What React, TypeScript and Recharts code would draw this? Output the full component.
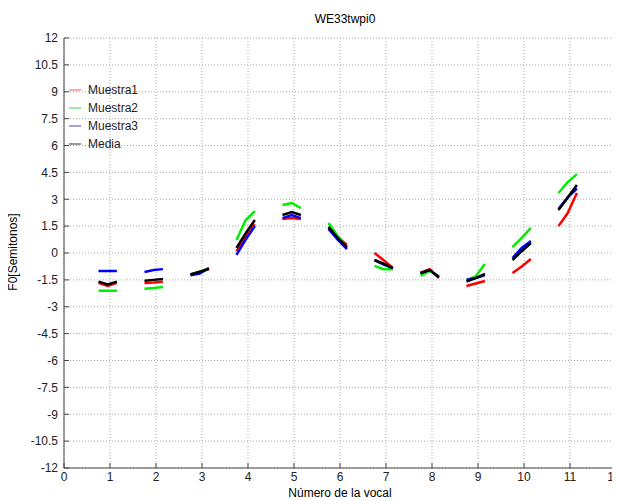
import React from 'react'
import { CartesianGrid, Legend, Line, LineChart, XAxis, YAxis } from 'recharts'

const vowels = [1, 2, 3, 4, 5, 6, 7, 8, 9, 10, 11]
const offsets = [-0.25, -0.05, 0.15]
const xTicks = [0, 1, 2, 3, 4, 5, 6, 7, 8, 9, 10, 11, 12]
const yTicks = [-12, -10.5, -9, -7.5, -6, -4.5, -3, -1.5, 0, 1.5, 3, 4.5, 6, 7.5, 9, 10.5, 12]

// F0 per vowel: start, middle, end of each segment
const muestra1 = [
  [-1.67, -1.84, -1.67],
  [-1.67, -1.65, -1.6],
  [-1.2, -1.05, -0.9],
  [0.1, 0.9, 1.6],
  [1.9, 1.95, 1.9],
  [1.4, 0.9, 0.45],
  [0, -0.4, -0.84],
  [-1.1, -0.9, -1.4],
  [-1.84, -1.7, -1.56],
  [-1.12, -0.75, -0.33],
  [1.5, 2.23, 3.35]
]
const muestra2 = [
  [-2.1, -2.1, -2.1],
  [-2.0, -1.95, -1.9],
  [-1.2, -1.05, -0.85],
  [0.72, 1.84, 2.34],
  [2.68, 2.79, 2.5],
  [1.67, 0.95, 0.28],
  [-0.72, -0.9, -0.9],
  [-1.28, -1.0, -1.3],
  [-1.5, -1.3, -0.62],
  [0.33, 0.85, 1.4],
  [3.35, 3.96, 4.4]
]
const muestra3 = [
  [-1.0, -1.0, -1.0],
  [-1.06, -0.95, -0.9],
  [-1.25, -1.15, -0.85],
  [-0.1, 0.75, 1.5],
  [1.95, 2.12, 1.95],
  [1.34, 0.75, 0.22],
  [-0.4, -0.65, -0.84],
  [-1.12, -0.95, -1.34],
  [-1.5, -1.4, -1.23],
  [-0.28, 0.28, 0.67],
  [2.45, 3.1, 3.6]
]
const media = [
  [-1.6, -1.75, -1.6],
  [-1.55, -1.5, -1.45],
  [-1.2, -1.05, -0.88],
  [0.28, 1.1, 1.84],
  [2.12, 2.29, 2.12],
  [1.45, 0.85, 0.33],
  [-0.39, -0.6, -0.84],
  [-1.12, -0.95, -1.34],
  [-1.6, -1.4, -1.17],
  [-0.39, 0.1, 0.56],
  [2.4, 3.1, 3.8]
]

const toPoints = (segs: number[][]) =>
  segs.flatMap((seg, i) => [
    ...offsets.map((o, j) => ({ x: vowels[i] + o, y: seg[j] })),
    { x: vowels[i] + 0.5, y: null }
  ])

const series = [
  { name: 'Muestra1', color: '#ff0000', legend: '#e87878', data: toPoints(muestra1) },
  { name: 'Muestra2', color: '#00ee00', legend: '#55dd55', data: toPoints(muestra2) },
  { name: 'Muestra3', color: '#0000ff', legend: '#6666cc', data: toPoints(muestra3) },
  { name: 'Media', color: '#000000', legend: '#555555', data: toPoints(media) }
]

const font = 'Liberation Sans, Arial, sans-serif'
const axisColor = '#444'
const blank = () => ''

const LegendBox = () => (
  <div style={{ fontFamily: font, fontSize: 12, color: '#222' }}>
    {series.map(s => (
      <div key={s.name} style={{ display: 'flex', alignItems: 'center', height: 18 }}>
        <svg width={12} height={4} style={{ marginRight: 7 }}>
          <line x1={0} y1={2} x2={12} y2={2} stroke={s.legend} strokeWidth={1.2} />
        </svg>
        <span>{s.name}</span>
      </div>
    ))}
  </div>
)

const App = () => {
  return (
    <div style={{ position: 'relative', width: 612, height: 493, fontFamily: font }}>
      <div style={{ position: 'absolute', left: 0, width: 674, top: 4, textAlign: 'center', fontSize: 12 }}>
        WE33twpi0
      </div>
      <div style={{ position: 'absolute', left: 0, width: 664, top: 478, textAlign: 'center', fontSize: 12 }}>
        Número de la vocal
      </div>
      <div
        style={{
          position: 'absolute',
          left: -45,
          top: 237,
          width: 100,
          textAlign: 'center',
          fontSize: 12,
          transform: 'rotate(-90deg)'
        }}
      >
        F0[Semitonos]
      </div>
      <LineChart width={612} height={493} margin={{ top: 30, right: 4, bottom: 3, left: 6 }}>
        <CartesianGrid stroke="#aaa" strokeDasharray="1 2" />
        <XAxis
          type="number"
          dataKey="x"
          domain={[0, 12]}
          ticks={xTicks}
          allowDataOverflow
          height={30}
          stroke={axisColor}
          tickSize={-5}
          tickMargin={9}
          tick={{ fill: '#222', fontSize: 12, fontFamily: font }}
        />
        <XAxis
          xAxisId="top"
          orientation="top"
          type="number"
          domain={[0, 12]}
          ticks={xTicks}
          height={0}
          tickSize={-5}
          tickFormatter={blank}
          stroke={axisColor}
        />
        <YAxis
          type="number"
          domain={[-12, 12]}
          ticks={yTicks}
          allowDataOverflow
          width={50}
          stroke={axisColor}
          tickSize={-5}
          tickMargin={11}
          interval={0}
          tick={{ fill: '#222', fontSize: 12, fontFamily: font }}
        />
        <YAxis
          yAxisId="right"
          orientation="right"
          type="number"
          domain={[-12, 12]}
          ticks={yTicks}
          width={0}
          tickSize={-5}
          interval={0}
          tickFormatter={blank}
          stroke={axisColor}
        />
        <Legend
          layout="vertical"
          align="center"
          verticalAlign="middle"
          content={() => <LegendBox />}
          wrapperStyle={{ left: 61, top: 73, width: 110, height: 75 }}
        />
        {series.map(s => (
          <Line
            key={s.name}
            data={s.data}
            dataKey="y"
            name={s.name}
            stroke={s.color}
            strokeWidth={2.5}
            dot={false}
            activeDot={false}
            connectNulls={false}
            isAnimationActive={false}
          />
        ))}
      </LineChart>
    </div>
  )
}

export default App
